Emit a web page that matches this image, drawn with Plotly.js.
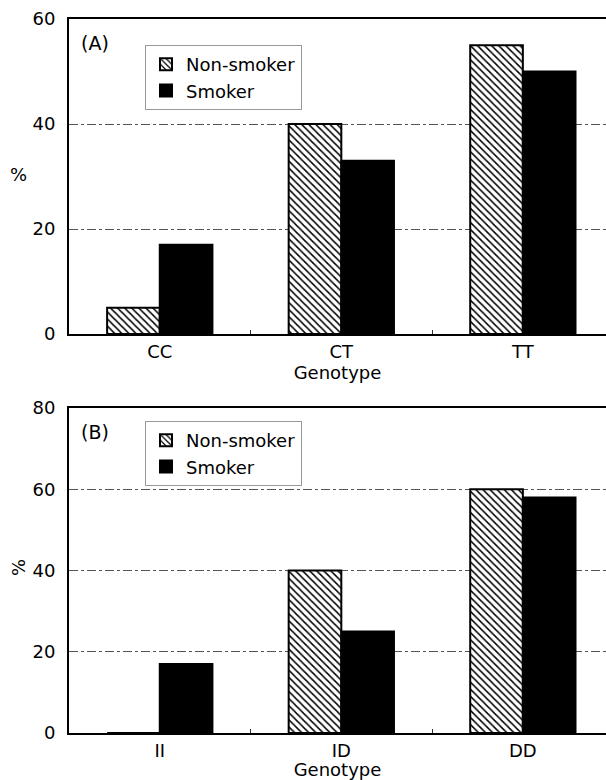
<!DOCTYPE html>
<html>
<head>
<meta charset="utf-8">
<script src="https://cdn.plot.ly/plotly-3.0.1.min.js"></script>
<style>html,body{margin:0;padding:0;background:#fff;}#chart{width:606px;height:780px;}</style>
</head>
<body>
<div id="chart"></div>
<script>
// Panel A
const genotypesA = ["CC", "CT", "TT"];
const nonSmokerA = [5, 40, 55];
const smokerA = [17, 33, 50];
// Panel B
const genotypesB = ["II", "ID", "DD"];
const nonSmokerB = [0, 40, 60];
const smokerB = [17, 25, 58];
const seriesNames = ["Non-smoker", "Smoker"];
const panelLabels = ["(A)", "(B)"];
const yTicksA = [0, 20, 40, 60];
const yTicksB = [0, 20, 40, 60, 80];

const FONT = "DejaVu Sans, Arial, sans-serif";
const hatch = {shape: "\\", fgcolor: "#000", bgcolor: "#fff", size: 5, solidity: 0.3};

function nsTrace(x, y, xa, ya, lg) {
  return {type: "bar", name: seriesNames[0], x: x, y: y, xaxis: xa, yaxis: ya, legend: lg,
    marker: {color: "#fff", pattern: hatch, line: {color: "#000", width: 2}}};
}
function smTrace(x, y, xa, ya, lg) {
  return {type: "bar", name: seriesNames[1], x: x, y: y, xaxis: xa, yaxis: ya, legend: lg,
    marker: {color: "#000", line: {color: "#000", width: 2}}};
}

const data = [
  nsTrace(genotypesA, nonSmokerA, "x", "y", "legend"),
  smTrace(genotypesA, smokerA, "x", "y", "legend"),
  nsTrace(genotypesB, nonSmokerB, "x2", "y2", "legend2"),
  smTrace(genotypesB, smokerB, "x2", "y2", "legend2")
];

const W = 606, H = 780, L = 69;
const pw = W - L;
function py(px) { return 1 - px / H; }

function xax(anchor) {
  return {anchor: anchor, domain: [0, 1], range: [-0.5, 2.458], showgrid: false,
    showline: true, linecolor: "#000", linewidth: 2, mirror: true,
    ticks: "inside", tickson: "boundaries", ticklen: 4, tickcolor: "#333",
    tickfont: {family: FONT, size: 18, color: "#000"},
    title: {text: "Genotype", font: {family: FONT, size: 18, color: "#000"}, standoff: 4},
    automargin: false, fixedrange: true};
}
function yax(anchor, dom, rng, vals) {
  return {anchor: anchor, domain: dom, range: rng, tickvals: vals, ticktext: vals.map(String),
    showline: true, linecolor: "#000", linewidth: 2, ticks: "",
    showgrid: true, gridcolor: "#555", gridwidth: 1, griddash: "dashdot",
    zeroline: false, ticklabelstandoff: 8,
    tickfont: {family: FONT, size: 18, color: "#000"},
    automargin: false, fixedrange: true};
}

const legendBase = {bgcolor: "#fff", bordercolor: "#999", borderwidth: 1,
  font: {family: FONT, size: 18, color: "#000"}, xanchor: "left", yanchor: "top",
  traceorder: "normal", itemwidth: 30, tracegroupgap: 0};

const layout = {
  width: W, height: H,
  margin: {l: L, r: 0, t: 0, b: 0},
  paper_bgcolor: "#fff", plot_bgcolor: "#fff",
  barmode: "group", bargap: 0.42, bargroupgap: 0,
  font: {family: FONT, size: 18, color: "#000"},
  xaxis: xax("y"),
  yaxis: yax("x", [py(334), py(19)], [0, 60], yTicksA),
  xaxis2: xax("y2"),
  yaxis2: yax("x2", [py(733), py(408)], [0, 80], yTicksB),
  legend: Object.assign({}, legendBase, {x: (145 - L) / pw, y: py(45)}),
  legend2: Object.assign({}, legendBase, {x: (145 - L) / pw, y: py(421)}),
  annotations: [
    {text: panelLabels[0], xref: "paper", yref: "paper", x: (79 - L) / pw, y: py(43),
     xanchor: "left", yanchor: "middle", showarrow: false, font: {family: FONT, size: 19, color: "#000"}},
    {text: panelLabels[1], xref: "paper", yref: "paper", x: (79 - L) / pw, y: py(432),
     xanchor: "left", yanchor: "middle", showarrow: false, font: {family: FONT, size: 19, color: "#000"}},
    {text: "%", xref: "paper", yref: "paper", x: (18 - L) / pw, y: py(175),
     xanchor: "center", yanchor: "middle", showarrow: false, font: {family: FONT, size: 18, color: "#000"}},
    {text: "%", xref: "paper", yref: "paper", x: (18 - L) / pw, y: py(568), textangle: -90,
     xanchor: "center", yanchor: "middle", showarrow: false, font: {family: FONT, size: 18, color: "#000"}}
  ],
  showlegend: true
};

Plotly.newPlot("chart", data, layout, {displayModeBar: false, staticPlot: true});
</script>
</body>
</html>
